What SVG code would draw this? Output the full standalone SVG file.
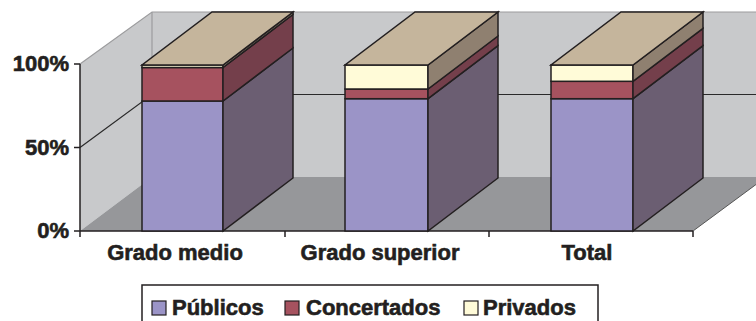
<svg xmlns="http://www.w3.org/2000/svg" width="756" height="321" viewBox="0 0 756 321">
  <style>
    .wall { fill: #c8c9cb; }
    .floor { fill: #96979a; }
    .wline { stroke: #9c9c9e; stroke-width: 1.2; fill: none; }
    .grid { stroke: #2a2a2a; stroke-width: 1.2; fill: none; }
    .axis { stroke: #231f20; stroke-width: 1.5; fill: none; }
    .bar polygon, .bar rect { stroke: #231f20; stroke-width: 1.5; stroke-linejoin: miter; }
    .pubF { fill: #9b94c7; }
    .pubS { fill: #6b5e72; }
    .conF { fill: #a6525f; }
    .conS { fill: #743f4b; }
    .priF { fill: #fffbd8; }
    .priS { fill: #8f8070; }
    .top { fill: #c5b59c; }
    .lbl { font-family: "Liberation Sans", Arial, sans-serif; font-weight: bold; font-size: 22px; fill: #231f20; stroke: #231f20; stroke-width: 0.6; }
    .leg { stroke: #231f20; stroke-width: 1.2; }
  </style>

  <g id="walls">
    <polygon class="wall" points="80,64 152,12 152,177 80,231"/>
    <rect class="wall" x="152" y="12" width="604" height="165"/>
    <polygon class="floor" points="80,231 152,177 756,177 756,184.5 693,231"/>
    <polyline class="wline" points="80,64 152,12 756,12"/>
    <line class="wline" x1="152" y1="12" x2="152" y2="177"/>
    <polyline class="grid" points="80,147.5 152,94.5 756,94.5"/>
    <line x1="693" y1="231" x2="756" y2="184.5" stroke="#555" stroke-width="1"/>
  </g>

  <g id="axes">
    <line class="axis" x1="80" y1="64" x2="80" y2="231"/>
    <line class="axis" x1="80" y1="231" x2="693" y2="231"/>
    <line class="axis" x1="74" y1="64" x2="80" y2="64"/>
    <line class="axis" x1="74" y1="147.5" x2="80" y2="147.5"/>
    <line class="axis" x1="74" y1="231" x2="80" y2="231"/>
    <line class="axis" x1="80" y1="231" x2="80" y2="237"/>
    <line class="axis" x1="285" y1="231" x2="285" y2="237"/>
    <line class="axis" x1="489" y1="231" x2="489" y2="237"/>
    <line class="axis" x1="693" y1="231" x2="693" y2="237"/>
    <text class="lbl" x="69" y="71" text-anchor="end">100%</text>
    <text class="lbl" x="69" y="155" text-anchor="end">50%</text>
    <text class="lbl" x="69" y="238" text-anchor="end">0%</text>
    <text class="lbl" x="175" y="260" text-anchor="middle">Grado medio</text>
    <text class="lbl" x="380" y="260" text-anchor="middle">Grado superior</text>
    <text class="lbl" x="587" y="260" text-anchor="middle">Total</text>
  </g>

  <g id="bar-grado-medio" class="bar">
    <rect class="pubF" x="142" y="101" width="81" height="130"/>
    <polygon class="pubS" points="223,101 293,48 293,178 223,231"/>
    <rect class="conF" x="142" y="67.5" width="81" height="33.5"/>
    <polygon class="conS" points="223,67.5 293,14.5 293,48 223,101"/>
    <rect class="priF" x="142" y="65" width="81" height="2.5"/>
    <polygon class="priS" points="223,65 293,12 293,14.5 223,67.5"/>
    <polygon class="top" points="142,65 223,65 293,12 212,12"/>
  </g>

  <g id="bar-grado-superior" class="bar">
    <rect class="pubF" x="345" y="98.7" width="83" height="132.3"/>
    <polygon class="pubS" points="428,98.7 498,45.7 498,178 428,231"/>
    <rect class="conF" x="345" y="89" width="83" height="9.7"/>
    <polygon class="conS" points="428,89 498,36 498,45.7 428,98.7"/>
    <rect class="priF" x="345" y="65" width="83" height="24"/>
    <polygon class="priS" points="428,65 498,12 498,36 428,89"/>
    <polygon class="top" points="345,65 428,65 498,12 415,12"/>
  </g>

  <g id="bar-total" class="bar">
    <rect class="pubF" x="551" y="98.7" width="82" height="132.3"/>
    <polygon class="pubS" points="633,98.7 703,45.7 703,178 633,231"/>
    <rect class="conF" x="551" y="81.3" width="82" height="17.4"/>
    <polygon class="conS" points="633,81.3 703,28.3 703,45.7 633,98.7"/>
    <rect class="priF" x="551" y="65" width="82" height="16.3"/>
    <polygon class="priS" points="633,65 703,12 703,28.3 633,81.3"/>
    <polygon class="top" points="551,65 633,65 703,12 621,12"/>
  </g>

  <g id="legend">
    <rect x="142" y="285" width="456" height="50" fill="#ffffff" stroke="#231f20" stroke-width="1.5"/>
    <rect class="leg pubF" x="152" y="301" width="14" height="14"/>
    <text class="lbl" x="172" y="315">Públicos</text>
    <rect class="leg conF" x="285" y="301" width="14" height="14"/>
    <text class="lbl" x="306" y="315">Concertados</text>
    <rect class="leg priF" x="464" y="301" width="14" height="14"/>
    <text class="lbl" x="483" y="315">Privados</text>
  </g>
</svg>
